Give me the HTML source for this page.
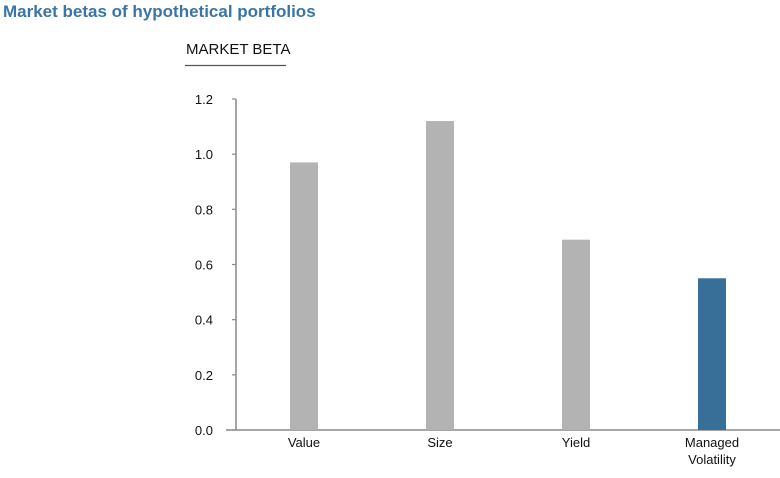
<!DOCTYPE html>
<html><head><meta charset="utf-8"><style>
body{margin:0;background:#fff;}
svg text{font-family:"Liberation Sans Narrow","Liberation Sans",sans-serif;}
</style></head><body>
<svg width="780" height="473" viewBox="0 0 780 473" xmlns="http://www.w3.org/2000/svg">
<text x="3" y="17" font-size="17" font-weight="bold" fill="#3a75a5">Market betas of hypothetical portfolios</text>
<text x="186" y="54" font-size="15" fill="#111">MARKET BETA</text>
<line x1="185" y1="65.5" x2="286" y2="65.5" stroke="#555" stroke-width="1.2"/>
<g id="axes"></g>
<g id="bars"></g>
</svg>
<script>
const categories=["Value","Size","Yield","Managed|Volatility"];
const values=[0.97,1.12,0.69,0.55];
const tickValues=[0,0.2,0.4,0.6,0.8,1.0,1.2];
const tickLabels=["0.0","0.2","0.4","0.6","0.8","1.0","1.2"];
const NS="http://www.w3.org/2000/svg";
const x0=236,x1=780,y0=430,y1=99,yMax=1.2;
const yS=v=>y0-(v/yMax)*(y0-y1);
const band=136;
const xC=i=>x0+band*(i+0.5);
function mk(t,a,p){const e=document.createElementNS(NS,t);for(const k in a)e.setAttribute(k,a[k]);p.appendChild(e);return e;}
const ax=document.getElementById('axes'),bg=document.getElementById('bars');
let yl=mk('line',{x1:x0,y1:y1,x2:x0,y2:y0,stroke:'#888','stroke-width':1.5},ax);


tickValues.forEach((v,i)=>{
 const y=yS(v);
 let t=mk('line',{x1:x0-4,y1:y,x2:x0,y2:y,stroke:'#888','stroke-width':1.2},ax);
 
 
 let l=mk('text',{x:213,y:y+5,'font-size':13,'text-anchor':'end',fill:'#111'},ax);
 l.textContent=tickLabels[i];
 
 
});
values.forEach((v,i)=>{
 const c=xC(i),w=28;
 let r=mk('rect',{x:c-w/2,y:yS(v),width:w,height:y0-yS(v),fill:i===3?'#386f99':'#b3b3b3'},bg);
 
 
 const parts=categories[i].split('|');
 parts.forEach((p,j)=>{
  let t=mk('text',{x:c,y:447+j*17,'font-size':13,'text-anchor':'middle',fill:'#111'},bg);
  t.textContent=p;
  
  
 });
});
let bl=mk('line',{x1:226,y1:y0,x2:x1,y2:y0,stroke:'#888','stroke-width':1.5},ax);


</script>
</body></html>
